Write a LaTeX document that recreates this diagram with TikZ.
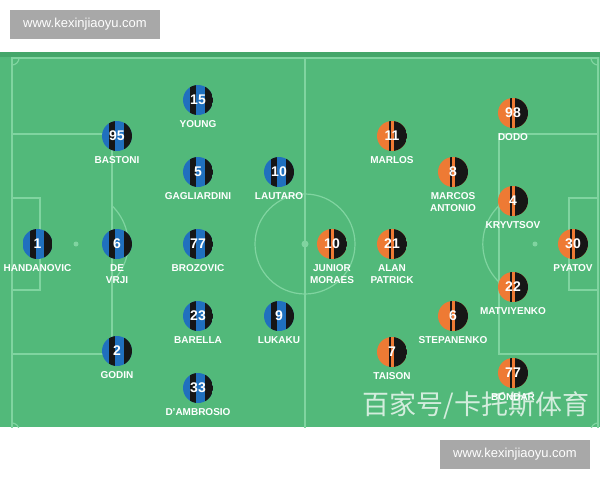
\documentclass[tikz,border=0pt]{standalone}
\usepackage{fontspec}
\setmainfont{Liberation Sans}
\newfontfamily\cjk{Noto Sans CJK SC}

\definecolor{pitch}{RGB}{82,185,122}
\definecolor{pitchtop}{RGB}{68,166,106}
\definecolor{chalk}{RGB}{128,212,160}
\definecolor{interblue}{RGB}{32,112,190}
\definecolor{shakorange}{RGB}{238,122,52}
\definecolor{shakblack}{RGB}{22,22,22}
\definecolor{markgray}{RGB}{168,168,168}

\tikzset{
  chalkline/.style={draw=chalk, line width=1.2pt},
  num/.style={text=white, inner sep=0pt, font=\bfseries\fontsize{14}{14}\selectfont},
  plabel/.style={text=white, inner sep=0pt, anchor=north, align=center,
    font=\bfseries\fontsize{10}{12}\selectfont},
  sitebox/.style={fill=markgray, text=white, inner sep=0pt, minimum width=150pt,
    minimum height=29pt, font=\fontsize{13}{13}\selectfont},
  pics/inter/.style={code={
    \begin{scope}
      \clip (0pt,0pt) circle (15pt);
      \fill[interblue] (-15pt,-15pt) rectangle (15pt,15pt);
      \fill[shakblack] (-7.6pt,-15pt) rectangle (-1.6pt,15pt);
      \fill[shakblack] (6.6pt,-15pt) rectangle (15pt,15pt);
    \end{scope}}},
  pics/shakhtar/.style={code={
    \begin{scope}
      \clip (0pt,0pt) circle (15pt);
      \fill[shakorange] (-15pt,-15pt) rectangle (15pt,15pt);
      \fill[shakblack] (-3.4pt,-15pt) rectangle (-1.2pt,15pt);
      \fill[shakblack] (1.6pt,-15pt) rectangle (15pt,15pt);
    \end{scope}}}
}

% #1 id, #2 x, #3 y, #4 kit, #5 number, #6 name
\newcommand{\player}[6]{%
  \pic at (#2,#3) {#4};
  \node[num] (#1) at (#2,#3) {#5};
  \node[plabel] (#1name) at (#2,#3+20.5) {#6};
}

\begin{document}
\begin{tikzpicture}[x=1pt,y=-1pt]
  \useasboundingbox (0,0) rectangle (600,480);
  \fill[white] (0,0) rectangle (600,480);

  % pitch
  \fill[pitch] (0,52) rectangle (600,427);
  \fill[pitchtop] (0,52) rectangle (600,57);
  \begin{scope}
    \clip (0,57) rectangle (600,427);
    \draw[chalkline] (12,58) rectangle (598,430);
    \draw[chalkline] (305,58) -- (305,430);
    \draw[chalkline] (305,244) circle (50pt);
    \fill[chalk] (305,244) circle (3.5pt);
    \draw[chalkline] (12,134) rectangle (112,354);
    \draw[chalkline] (12,198) rectangle (40,290);
    \draw[chalkline] (499,134) rectangle (598,354);
    \draw[chalkline] (569,198) rectangle (598,290);
    \fill[chalk] (76,244) circle (2.5pt);
    \fill[chalk] (535,244) circle (2.5pt);
    \draw[chalkline] (112,282) arc (-46:46:53pt);
    \draw[chalkline] (499,282) arc (226:134:53pt);
    \draw[chalkline] (19,58) arc (0:-90:7pt);
    \draw[chalkline] (591,58) arc (180:270:7pt);
    \draw[chalkline] (19,430) arc (0:90:7pt);
    \draw[chalkline] (591,430) arc (180:90:7pt);
  \end{scope}

  % Inter
  \player{handanovic}{37.5}{244}{inter}{1}{HANDANOVIC}
  \player{devrij}{117}{244}{inter}{6}{DE\\VRJI}
  \player{bastoni}{117}{136}{inter}{95}{BASTONI}
  \player{godin}{117}{351}{inter}{2}{GODIN}
  \player{young}{198}{100}{inter}{15}{YOUNG}
  \player{gagliardini}{198}{172}{inter}{5}{GAGLIARDINI}
  \player{brozovic}{198}{244}{inter}{77}{BROZOVIC}
  \player{barella}{198}{316}{inter}{23}{BARELLA}
  \player{dambrosio}{198}{388}{inter}{33}{D'AMBROSIO}
  \player{lautaro}{279}{172}{inter}{10}{LAUTARO}
  \player{lukaku}{279}{316}{inter}{9}{LUKAKU}

  % Shakhtar
  \player{moraes}{332}{244}{shakhtar}{10}{JUNIOR\\MORAES}
  \player{patrick}{392}{244}{shakhtar}{21}{ALAN\\PATRICK}
  \player{marlos}{392}{136}{shakhtar}{11}{MARLOS}
  \player{antonio}{453}{172}{shakhtar}{8}{MARCOS\\ANTONIO}
  \player{taison}{392}{352}{shakhtar}{7}{TAISON}
  \player{stepanenko}{453}{316}{shakhtar}{6}{STEPANENKO}
  \player{dodo}{513}{113}{shakhtar}{98}{DODO}
  \player{kryvtsov}{513}{201}{shakhtar}{4}{KRYVTSOV}
  \player{pyatov}{573}{244}{shakhtar}{30}{PYATOV}
  \player{matviyenko}{513}{287}{shakhtar}{22}{MATVIYENKO}
  \player{bondar}{513}{373}{shakhtar}{77}{BONDAR}

  % watermarks
  \node[sitebox] (marktop) at (85,24.5) {www.kexinjiaoyu.com};
  \node[sitebox] (markbottom) at (515,454.5) {www.kexinjiaoyu.com};
  \node[text=white, text opacity=0.75, inner sep=0pt,
    font=\cjk\fontsize{27}{27}\selectfont] (source) at (476,405) {百家号/卡托斯体育};
\end{tikzpicture}
\end{document}
